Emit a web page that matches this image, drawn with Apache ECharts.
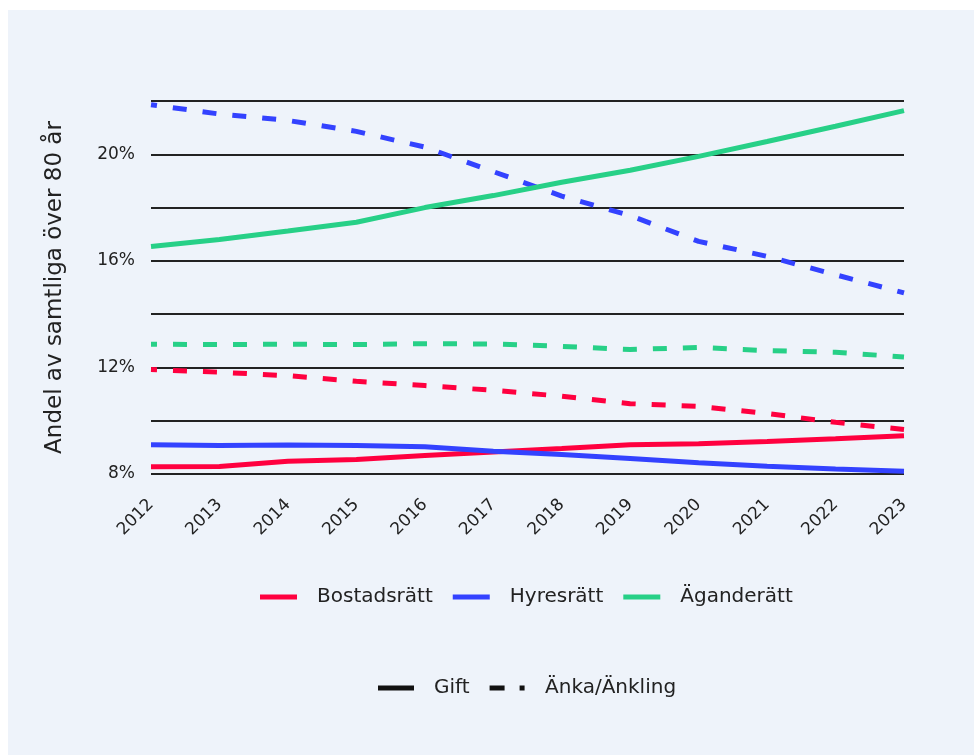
<!DOCTYPE html>
<html>
<head>
<meta charset="utf-8">
<script src="https://cdn.jsdelivr.net/npm/echarts@6/dist/echarts.min.js"></script>
<style>
html,body{margin:0;padding:0;background:#ffffff;}
#chart{width:974px;height:755px;}
</style>
</head>
<body>
<div id="chart"></div>
<script>
const years = ['2012','2013','2014','2015','2016','2017','2018','2019','2020','2021','2022','2023'];
const yTicks = [8, 12, 16, 20];

// Gift (solid)
const bostadsrattGift = [8.27, 8.28, 8.48, 8.54, 8.69, 8.83, 8.96, 9.10, 9.14, 9.22, 9.32, 9.44];
const hyresrattGift   = [9.10, 9.07, 9.09, 9.07, 9.02, 8.85, 8.73, 8.58, 8.42, 8.29, 8.19, 8.10];
const aganderattGift  = [16.54, 16.80, 17.12, 17.45, 18.00, 18.45, 18.95, 19.40, 19.92, 20.48, 21.05, 21.64];
// Änka/Änkling (dashed)
const bostadsrattAnka = [11.92, 11.82, 11.69, 11.48, 11.32, 11.14, 10.92, 10.64, 10.54, 10.27, 9.94, 9.67];
const hyresrattAnka   = [21.86, 21.51, 21.27, 20.86, 20.27, 19.35, 18.43, 17.70, 16.73, 16.17, 15.48, 14.80];
const aganderattAnka  = [12.87, 12.86, 12.87, 12.86, 12.89, 12.88, 12.79, 12.67, 12.75, 12.63, 12.57, 12.39];

const categories = ['Bostadsrätt', 'Hyresrätt', 'Äganderätt'];
const styleNames = ['Gift', 'Änka/Änkling'];
const yAxisTitle = 'Andel av samtliga över 80 år';

const RED = '#ff003f', BLUE = '#3342ff', GREEN = '#27d087';
const FONT = '"DejaVu Sans", sans-serif';
const TXT = '#222222';

function lineSeries(name, data, color, dashed) {
  return {
    name: name, type: 'line', data: data, symbol: 'none', smooth: false,
    color: color,
    lineStyle: dashed
      ? { color: color, width: 5, type: [14, 16], dashOffset: 8, cap: 'butt' }
      : { color: color, width: 5 },
    emphasis: { disabled: true }
  };
}

const legendCommon = {
  padding: 0, itemGap: 20, itemHeight: 5, selectedMode: false,
  itemStyle: { borderWidth: 0 },
  lineStyle: { type: 'solid', width: 0 },
  textStyle: { fontSize: 20, color: TXT, fontFamily: FONT, padding: [0, 0, 0, 15] }
};

const chart = echarts.init(document.getElementById('chart'), null, { renderer: 'canvas' });
chart.setOption({
  animation: false,
  textStyle: { fontFamily: FONT, color: TXT },
  graphic: [{
    type: 'rect', z: -10, silent: true,
    shape: { x: 8, y: 10, width: 966, height: 745 },
    style: { fill: '#eef3fa' }
  }],
  grid: { left: 151, right: 70, top: 101, bottom: 281 },
  xAxis: {
    type: 'category', data: years, boundaryGap: false,
    axisLine: { show: false }, axisTick: { show: false },
    axisLabel: { rotate: 45, fontSize: 17, color: TXT, fontFamily: FONT, margin: 28 }
  },
  yAxis: {
    type: 'value', min: 8, max: 22, interval: 2,
    name: yAxisTitle, nameLocation: 'middle', nameRotate: 90, nameGap: 84,
    nameTextStyle: { fontSize: 23, color: TXT, fontFamily: FONT },
    axisLine: { show: false }, axisTick: { show: false },
    splitLine: { show: true, lineStyle: { color: '#222222', width: 2 } },
    axisLabel: {
      fontSize: 17, color: TXT, fontFamily: FONT, margin: 16,
      formatter: function (v) { return yTicks.indexOf(v) >= 0 ? v + '%' : ''; }
    }
  },
  legend: [Object.assign({}, legendCommon, {
    left: 260, top: 587, itemWidth: 37,
    data: [
      { name: categories[0], icon: 'rect' },
      { name: categories[1], icon: 'rect' },
      { name: categories[2], icon: 'rect' }
    ]
  }), Object.assign({}, legendCommon, {
    left: 378, top: 678, itemWidth: 36,
    data: [
      { name: styleNames[0], icon: 'rect' },
      { name: styleNames[1], icon: 'path://M0,0H15V5H0Z M30,0H35V5H30Z' }
    ]
  })],
  series: [
    lineSeries(categories[0], bostadsrattGift, RED, false),
    lineSeries(categories[0], bostadsrattAnka, RED, true),
    lineSeries(categories[1], hyresrattGift, BLUE, false),
    lineSeries(categories[1], hyresrattAnka, BLUE, true),
    lineSeries(categories[2], aganderattGift, GREEN, false),
    lineSeries(categories[2], aganderattAnka, GREEN, true),
    { name: styleNames[0], type: 'line', data: [], color: '#111111', lineStyle: { color: '#111111' } },
    { name: styleNames[1], type: 'line', data: [], color: '#111111', lineStyle: { color: '#111111' } }
  ]
});
</script>
</body>
</html>
